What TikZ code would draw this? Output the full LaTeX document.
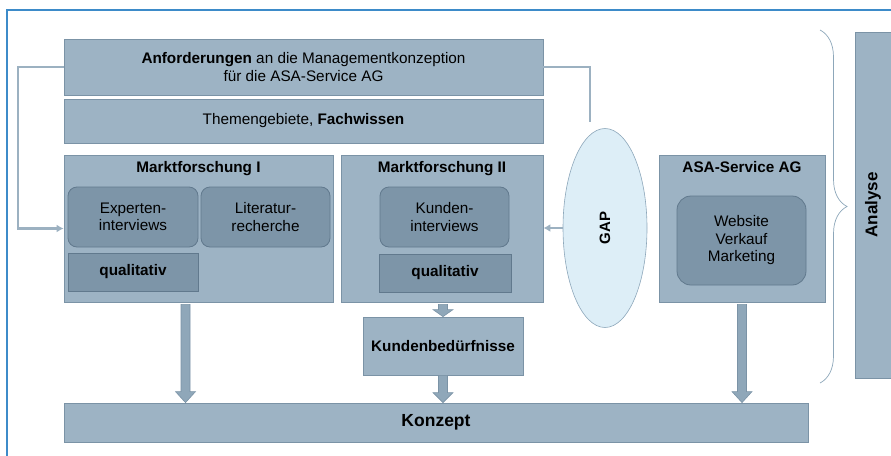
\documentclass[tikz,border=0pt]{standalone}
\usepackage{fontspec}
\setmainfont{Liberation Sans}
\usetikzlibrary{shapes,positioning,calc,arrows.meta,decorations.pathreplacing}
\definecolor{kasten}{HTML}{9DB3C4}
\definecolor{kastenrand}{HTML}{7B93A6}
\definecolor{innen}{HTML}{7D95A8}
\definecolor{innenrand}{HTML}{61798D}
\definecolor{pfeil}{HTML}{8FA7B9}
\definecolor{gapfill}{HTML}{DDEEF7}
\definecolor{gaprand}{HTML}{8DA7BA}
\definecolor{linie}{HTML}{9CB1C1}
\definecolor{rahmen}{HTML}{3D8BC9}
\tikzset{
	box/.style={draw=kastenrand,fill=kasten,line width=0.8pt,inner sep=0pt,align=center,font=\fontsize{15.3}{17.5}\selectfont},
	inbox/.style={box,fill=innen,draw=innenrand,rounded corners=9pt},
	qbox/.style={box,fill=innen,draw=innenrand,font=\bfseries\fontsize{15.3}{17.5}\selectfont},
	titel/.style={font=\bfseries\fontsize{15.3}{17.5}\selectfont,inner sep=0pt},
	fb/.style={draw=linie,line width=2.2pt},
	blockarr/.style={fill=pfeil,draw=kastenrand,line width=0.6pt},
}
% Blockpfeil von #2 nach #3, Spitzenlaenge #1
\newcommand{\blockpfeil}[3][11]{%
	\draw[blockarr] let \p1=(#2), \p2=(#3) in
	(\x1-4.5pt,\y1) -- (\x1+4.5pt,\y1) -- (\x1+4.5pt,\y2+#1pt) -- (\x1+10pt,\y2+#1pt)
	-- (\x1,\y2) -- (\x1-10pt,\y2+#1pt) -- (\x1-4.5pt,\y2+#1pt) -- cycle;}

\begin{document}
\begin{tikzpicture}[x=1pt,y=-1pt]
	\useasboundingbox (0,0) rectangle (891,455);
	
	%Rahmen
	\draw[rahmen,line width=1.2pt] (7,470) -- (7,10) -- (900,10);
	
	%Kaesten oben
	\node[box,minimum width=479pt,minimum height=56pt] (anf) at (303.5,67) {\textbf{Anforderungen} an die Managementkonzeption\\f\"ur die ASA-Service AG};
	\node[box,minimum width=479pt,minimum height=44pt] (themen) at (303.5,121) {Themengebiete, \textbf{Fachwissen}};
	
	%Marktforschung I
	\node[box,minimum width=269pt,minimum height=147pt] (mf1) at (198.5,228.5) {};
	\node[titel,below=7pt of mf1.north] (mf1t) {Marktforschung I};
	\node[inbox,minimum width=130pt,minimum height=60pt] (exp) at (133,217) {Experten-\\interviews};
	\node[inbox,minimum width=129pt,minimum height=60pt] (lit) at (265.5,217) {Literatur-\\recherche};
	\node[qbox,minimum width=130pt,minimum height=38pt] (qual1) at (133,272) {qualitativ};
	
	%Marktforschung II
	\node[box,minimum width=202pt,minimum height=147pt] (mf2) at (442,228.5) {};
	\node[titel,below=7pt of mf2.north] (mf2t) {Marktforschung II};
	\node[inbox,minimum width=129pt,minimum height=60pt] (kund) at (444.5,217) {Kunden-\\interviews};
	\node[qbox,minimum width=132pt,minimum height=38pt] (qual2) at (445,273) {qualitativ};
	\node[box,font=\bfseries\fontsize{15.3}{17.5}\selectfont,minimum width=160pt,minimum height=58pt] (bed) at (443,346) {Kundenbed\"urfnisse};
	
	%ASA-Service AG
	\node[box,minimum width=166pt,minimum height=147pt] (asa) at (742,228.5) {};
	\node[titel,below=7pt of asa.north] (asat) {ASA-Service AG};
	\node[inbox,rounded corners=14pt,minimum width=129pt,minimum height=89pt] (web) at (741.5,240.5) {Website\\Verkauf\\Marketing};
	
	%Konzept, Analyse
	\node[box,font=\bfseries\fontsize{17.5}{20}\selectfont,minimum width=744pt,minimum height=39pt] (konz) at (436,422.5) {Konzept};
	\node[box,rotate=90,font=\bfseries\fontsize{17}{20}\selectfont,minimum width=346pt,minimum height=36pt] (ana) at (873,205) {Analyse};
	\draw[decorate,decoration={brace,amplitude=27pt},draw=gaprand,line width=0.7pt] (820,30) -- (820,383);
	
	%GAP
	\node[ellipse,rotate=90,draw=gaprand,fill=gapfill,line width=0.6pt,minimum width=199pt,minimum height=84pt,inner sep=0pt,font=\bfseries\fontsize{15}{17}\selectfont] (gap) at (605,228) {GAP};
	
	%Rueckkopplung
	\draw[fb,-{Latex[length=7pt,width=8pt]}] (anf.west) -- ++(-46,0) |- (mf1.west);
	\draw[fb,shorten >=6pt] (anf.east) -| ([xshift=-15pt]gap.east);
	\draw[fb,-{Latex[length=7pt,width=8pt]}] (gap.north) -- (gap.north -| mf2.east);
	
	%Blockpfeile
	\blockpfeil{[shift={(-13,2)}]mf1.south}{konz.north}
	\blockpfeil[7]{[shift={(1,2)}]mf2.south}{bed.north}
	\blockpfeil[10]{bed.south}{konz.north}
	\blockpfeil{[yshift=-2pt]asa.south}{konz.north}
	
\end{tikzpicture}
\end{document}
